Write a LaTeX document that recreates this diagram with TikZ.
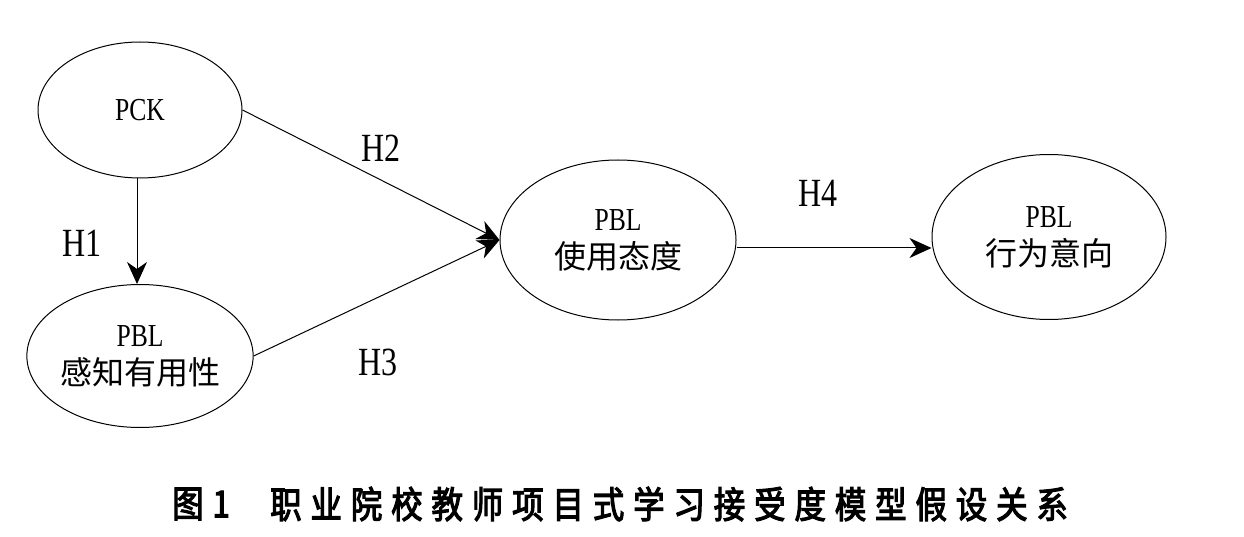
\documentclass[tikz,border=0pt]{standalone}
\usepackage{fontspec}
\setmainfont{Liberation Serif}[FakeStretch=0.8]
\newfontfamily\cjk{Noto Sans CJK SC}
\newfontfamily\capfont{Noto Sans CJK SC}[FakeStretch=0.85,FakeBold=3,LetterSpace=24]
\usetikzlibrary{shapes.geometric,arrows.meta}
\begin{document}
\begin{tikzpicture}[x=1pt,y=-1pt]
\useasboundingbox[fill=white] (0,0) rectangle (1244,537);
\tikzset{
  latent/.style={draw, ellipse, line width=1pt, inner sep=0pt, align=center,
    font=\fontsize{32}{38}\selectfont},
  hlab/.style={font=\fontsize{40}{40}\selectfont, inner sep=0pt},
  link/.style={line width=1pt, -{Stealth[length=22pt,width=20pt,inset=7pt]}},
  captext/.style={font=\capfont\fontsize{37}{40}\selectfont, inner sep=0pt, anchor=west}
}
\node[latent, minimum width=204pt, minimum height=136pt] (pck) at (140,110) {PCK};
\node[latent, minimum width=205pt, minimum height=143pt] (pu) at (140,356) {PBL\\{\cjk\fontsize{32}{38}\selectfont 感知有用性}};
\node[latent, minimum width=236pt, minimum height=160pt] (att) at (618,240) {PBL\\{\cjk\fontsize{32}{38}\selectfont 使用态度}};
\node[latent, minimum width=234pt, minimum height=165pt] (int) at (1049,237) {PBL\\{\cjk\fontsize{32}{38}\selectfont 行为意向}};

\draw[link] ([xshift=-3pt]pck.south) -- ([xshift=-3pt]pu.north);
\draw[link] (pck.east) -- (att.west);
\draw[link] (pu.east) -- (att.west);
\draw[link] ([yshift=-8pt]att.east) -- ([yshift=-8pt]att.east -| int.west);

\node[hlab] (h1) at (82,243) {H1};
\node[hlab] (h2) at (381,148) {H2};
\node[hlab] (h3) at (378,362) {H3};
\node[hlab] (h4) at (818,193) {H4};

\node[captext] (fig) at (172,504) {图1};
\node[captext] (cap) at (270,504) {职业院校教师项目式学习接受度模型假设关系};
\end{tikzpicture}
\end{document}
